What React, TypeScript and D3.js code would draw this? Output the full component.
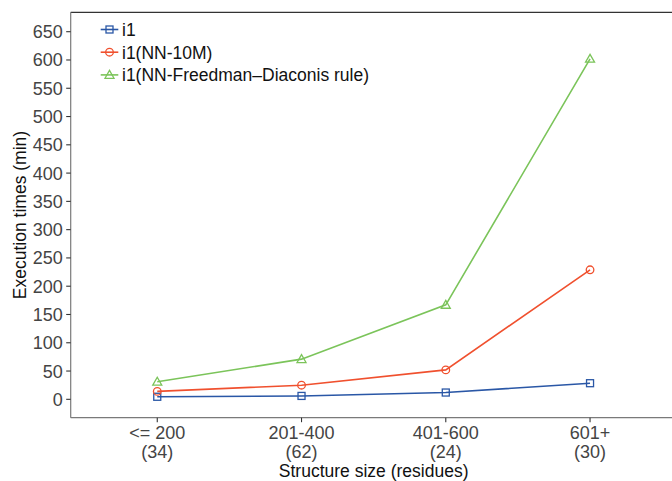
import React from "react";
import * as d3 from "d3";

const categories = ["<= 200", "201-400", "401-600", "601+"];
const counts = ["(34)", "(62)", "(24)", "(30)"];
const seriesNames = ["i1", "i1(NN-10M)", "i1(NN-Freedman\u2013Diaconis rule)"];
const i1Values = [4.5, 6, 12, 28.5];
const nn10mValues = [14, 25, 52, 229];
const nnFdValues = [31, 71, 167, 602];
const yTicks = d3.range(0, 651, 50);
const colors = ["#2A57A6", "#F0502E", "#7BC45A"];
const shapes = ["square", "circle", "triangle"];

const W = 672;
const H = 481;
const left = 70.7;
const right = 676.6;
const top = 12.3;
const bottom = 417.7;

export default function App() {
  const x = d3.scalePoint<string>().domain(categories).range([left, right]).padding(0.6);
  const y = d3.scaleLinear().domain([-32.5, 684.3]).range([bottom, top]);
  const series = [i1Values, nn10mValues, nnFdValues];
  const line = d3
    .line<number>()
    .x((_, i) => x(categories[i]) as number)
    .y((d) => y(d));
  const font = "'Liberation Sans', Arial, sans-serif";

  const marker = (shape: string, cx: number, cy: number, color: string, key: string) => {
    if (shape === "square")
      return <rect key={key} x={cx - 3.5} y={cy - 3.5} width={7} height={7} fill="none" stroke={color} strokeWidth={1.3} />;
    if (shape === "circle")
      return <circle key={key} cx={cx} cy={cy} r={3.8} fill="none" stroke={color} strokeWidth={1.3} />;
    const s = 4.5;
    return (
      <path
        key={key}
        d={`M${cx},${cy - s}L${cx + s},${cy + s * 0.75}L${cx - s},${cy + s * 0.75}Z`}
        fill="none"
        stroke={color}
        strokeWidth={1.3}
      />
    );
  };

  return (
    <svg width={W} height={H} style={{ position: "absolute", left: 0, top: 0, fontFamily: font }}>
      <rect x={0} y={0} width={W} height={H} fill="white" />
      {/* panel border */}
      <line x1={left} x2={W} y1={top} y2={top} stroke="#333" strokeWidth={1.2} />
      <line x1={left} x2={left} y1={top} y2={bottom} stroke="#7a7a7a" strokeWidth={1.2} />
      <line x1={left} x2={W} y1={bottom} y2={bottom} stroke="#7a7a7a" strokeWidth={1.2} />
      {/* y ticks */}
      {yTicks.map((t) => (
        <g key={t}>
          <line x1={left - 4.5} x2={left} y1={y(t)} y2={y(t)} stroke="#333" strokeWidth={1.1} />
          <text x={left - 8} y={y(t)} dy="0.36em" textAnchor="end" fontSize={18} fill="#444">
            {t}
          </text>
        </g>
      ))}
      {/* x ticks */}
      {categories.map((c, i) => (
        <g key={c}>
          <line x1={x(c)} x2={x(c)} y1={bottom} y2={bottom + 4.5} stroke="#333" strokeWidth={1.1} />
          <text x={x(c)} y={439} textAnchor="middle" fontSize={18} fill="#444">
            {c}
          </text>
          <text x={x(c)} y={458} textAnchor="middle" fontSize={18} fill="#444">
            {counts[i]}
          </text>
        </g>
      ))}
      {/* axis titles */}
      <text x={(left + right) / 2} y={477} textAnchor="middle" fontSize={17.5} fill="#111">
        Structure size (residues)
      </text>
      <text
        transform={`translate(26,${(top + bottom) / 2}) rotate(-90)`}
        textAnchor="middle"
        fontSize={17.5}
        fill="#111"
      >
        Execution times (min)
      </text>
      {/* lines */}
      {series.map((s, k) => (
        <g key={k}>
          <path d={line(s) || ""} fill="none" stroke={colors[k]} strokeWidth={1.6} />
          {s.map((v, i) => marker(shapes[k], x(categories[i]) as number, y(v), colors[k], `${k}-${i}`))}
        </g>
      ))}
      {/* legend */}
      {seriesNames.map((n, k) => {
        const ly = 29.5 + k * 22.7;
        return (
          <g key={n}>
            <line x1={100.7} x2={118.3} y1={ly} y2={ly} stroke={colors[k]} strokeWidth={1.6} />
            {marker(shapes[k], 109.5, ly, colors[k], `lg${k}`)}
            <text x={122} y={ly} dy="0.36em" fontSize={17.5} fill="#111">
              {n}
            </text>
          </g>
        );
      })}
    </svg>
  );
}
